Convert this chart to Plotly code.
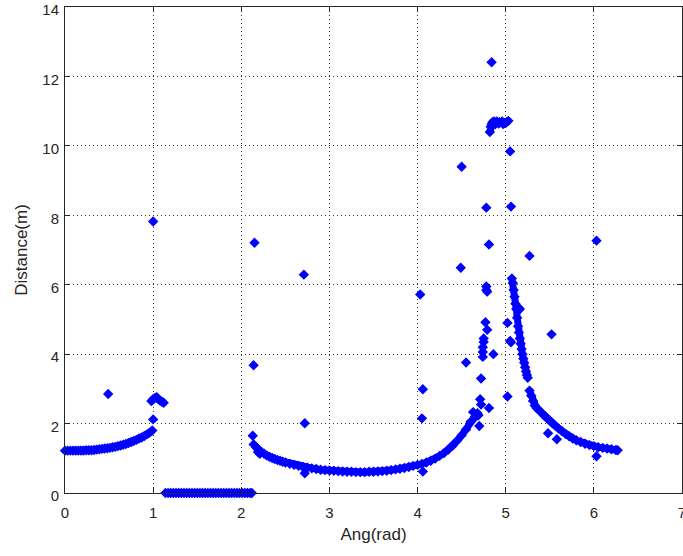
import plotly.graph_objects as go

# ---- main scan curve (left wall) ----
seg_a_x = [0.00, 0.03, 0.06, 0.09, 0.12, 0.15, 0.18, 0.21, 0.24, 0.27, 0.30, 0.33,
           0.36, 0.39, 0.42, 0.45, 0.48, 0.51, 0.54, 0.57, 0.60, 0.63, 0.66, 0.69,
           0.72, 0.75, 0.78, 0.81, 0.84, 0.87, 0.90, 0.93, 0.96, 0.99]
seg_a_y = [1.22, 1.22, 1.22, 1.22, 1.22, 1.22, 1.22, 1.22, 1.23, 1.23, 1.23, 1.24,
           1.25, 1.26, 1.27, 1.28, 1.29, 1.30, 1.32, 1.33, 1.35, 1.37, 1.39, 1.41,
           1.44, 1.47, 1.50, 1.53, 1.57, 1.60, 1.64, 1.69, 1.74, 1.80]

# ---- small bump just after 1 rad ----
bump_x = [0.98, 1.00, 1.02, 1.04, 1.06, 1.08, 1.10, 1.12]
bump_y = [2.65, 2.70, 2.74, 2.76, 2.70, 2.66, 2.63, 2.60]

# ---- no-return zone (distance 0) ----
zero_x = [1.14, 1.17, 1.20, 1.23, 1.26, 1.29, 1.32, 1.35, 1.38, 1.41, 1.44, 1.47,
          1.50, 1.53, 1.56, 1.59, 1.62, 1.65, 1.68, 1.71, 1.74, 1.77, 1.80, 1.83,
          1.86, 1.89, 1.92, 1.95, 1.98, 2.01, 2.04, 2.07, 2.10, 2.12]
zero_y = [0.0] * len(zero_x)

# ---- long bowl 2.1 .. 4.7 rad ----
seg_c_x = [2.14, 2.17, 2.20, 2.23, 2.26, 2.29, 2.32, 2.35, 2.38, 2.41, 2.44, 2.47,
           2.50, 2.55, 2.60, 2.65, 2.70, 2.75, 2.80, 2.85, 2.90, 2.95, 3.00, 3.05,
           3.10, 3.15, 3.20, 3.25, 3.30, 3.35, 3.40, 3.45, 3.50, 3.55, 3.60, 3.65,
           3.70, 3.75, 3.80, 3.85, 3.90, 3.95, 4.00, 4.05, 4.10, 4.15, 4.20, 4.25,
           4.30, 4.35, 4.40, 4.45, 4.50, 4.55, 4.60, 4.65, 4.68]
seg_c_y = [1.40, 1.31, 1.24, 1.18, 1.13, 1.08, 1.04, 1.01, 0.98, 0.95, 0.93, 0.90,
           0.88, 0.84, 0.81, 0.78, 0.75, 0.73, 0.71, 0.69, 0.67, 0.66, 0.65, 0.64,
           0.63, 0.62, 0.61, 0.61, 0.60, 0.60, 0.60, 0.61, 0.61, 0.62, 0.63, 0.64,
           0.66, 0.68, 0.70, 0.72, 0.75, 0.78, 0.81, 0.84, 0.88, 0.93, 0.99, 1.07,
           1.15, 1.25, 1.37, 1.51, 1.66, 1.83, 2.05, 2.20, 2.30]

# ---- descending branch 5.07 .. 6.27 rad (two pieces) ----
seg_d_x = [5.07, 5.08, 5.09, 5.10, 5.11, 5.12, 5.13, 5.14, 5.15, 5.16, 5.17, 5.18,
           5.19, 5.20, 5.21, 5.22, 5.23, 5.24, 5.25]
seg_d_y = [6.18, 6.05, 5.85, 5.65, 5.45, 5.30, 5.05, 4.80, 4.62, 4.45, 4.30, 4.15,
           4.00, 3.87, 3.75, 3.62, 3.50, 3.40, 3.32]
seg_e_x = [5.27, 5.29, 5.31, 5.33, 5.35, 5.38, 5.41, 5.44, 5.47, 5.50, 5.53, 5.56,
           5.60, 5.64, 5.68, 5.72, 5.76, 5.80, 5.85, 5.90, 5.95, 6.00, 6.05, 6.10,
           6.15, 6.20, 6.25, 6.27]
seg_e_y = [2.95, 2.80, 2.65, 2.52, 2.45, 2.38, 2.30, 2.22, 2.15, 2.08, 2.01, 1.94,
           1.86, 1.78, 1.70, 1.63, 1.57, 1.52, 1.47, 1.42, 1.38, 1.35, 1.32, 1.30,
           1.28, 1.26, 1.24, 1.23]

# ---- far cluster near 4.9 rad ----
top_x = [4.82, 4.83, 4.84, 4.85, 4.87, 4.90, 4.93, 4.96, 4.99, 5.01, 5.03, 4.88, 4.92, 4.97]
top_y = [10.40, 10.55, 10.62, 10.68, 10.70, 10.70, 10.68, 10.70, 10.66, 10.68, 10.72, 10.62, 10.64, 10.63]

# ---- scattered returns ----
out_x = [0.49, 1.00, 1.00, 2.13, 2.14, 2.15, 2.21, 2.19, 2.71, 2.72, 2.72, 4.03,
         4.06, 4.05, 4.06, 4.50, 4.49, 4.55, 4.84, 4.78, 5.06, 4.81, 5.27, 4.78,
         4.78, 4.79, 4.77, 4.79, 4.75, 4.75, 4.74, 4.74, 4.74, 4.86, 4.72, 4.71,
         4.72, 4.81, 4.63, 4.69, 4.66, 4.70, 5.02, 5.06, 5.05, 5.02, 5.05, 5.52,
         5.48, 5.58, 6.03, 6.03, 5.15, 5.16, 5.15]
out_y = [2.85, 7.82, 2.12, 1.65, 3.68, 7.21, 1.13, 1.18, 6.29, 2.01, 0.57, 5.72,
         2.99, 2.15, 0.62, 9.40, 6.49, 3.76, 12.41, 8.22, 8.25, 7.16, 6.83, 5.95,
         5.85, 5.80, 4.92, 4.70, 4.45, 4.35, 4.20, 4.06, 3.92, 4.00, 3.30, 2.70,
         2.55, 2.45, 2.33, 2.24, 2.20, 1.93, 4.90, 4.34, 4.38, 2.78, 9.84, 4.57,
         1.72, 1.55, 1.06, 7.27, 5.32, 5.30, 5.28]

x_ticks = [0, 1, 2, 3, 4, 5, 6, 7]
y_ticks = [0, 2, 4, 6, 8, 10, 12, 14]

BLUE = "#0000ff"
FONT = "Liberation Sans, Arial, Helvetica, sans-serif"
INK = "#262626"

fig = go.Figure()
# continuous segments: thick line + markers so dense scan reads as a band
for sx, sy in [(seg_a_x, seg_a_y), (bump_x, bump_y), (zero_x, zero_y),
               (seg_c_x, seg_c_y), (seg_d_x, seg_d_y), (seg_e_x, seg_e_y),
               (top_x[:11], top_y[:11])]:
    fig.add_trace(go.Scatter(
        x=sx, y=sy, mode="lines+markers",
        line=dict(color=BLUE, width=7),
        marker=dict(symbol="diamond", size=8, color=BLUE, line=dict(width=0)),
        cliponaxis=False, showlegend=False,
    ))
fig.add_trace(go.Scatter(
    x=top_x[11:] + out_x, y=top_y[11:] + out_y, mode="markers",
    marker=dict(symbol="diamond", size=8, color=BLUE, line=dict(width=0)),
    cliponaxis=False, showlegend=False,
))

axis_common = dict(
    showline=True, linecolor=INK, linewidth=1, mirror="ticks",
    ticks="inside", ticklen=5, tickcolor=INK, tickwidth=1,
    showgrid=True, gridcolor="#333333", griddash="1px,3px", gridwidth=1,
    zeroline=False, ticklabeloverflow="allow",
    tickfont=dict(family=FONT, size=15, color=INK),
)

fig.update_xaxes(range=[0, 7], tickvals=x_ticks, ticktext=[str(v) for v in x_ticks],
                 title=dict(text="Ang(rad)", standoff=8,
                            font=dict(family=FONT, size=17, color=INK)),
                 ticklabelstandoff=6, **axis_common)
fig.update_yaxes(range=[0, 14], tickvals=y_ticks, ticktext=[str(v) for v in y_ticks],
                 title=dict(text="Distance(m)", standoff=10,
                            font=dict(family=FONT, size=17, color=INK)),
                 ticklabelstandoff=2, ticklabelshift=3, **axis_common)

fig.update_layout(
    width=683, height=556,
    margin=dict(l=65, r=1, t=7, b=63, autoexpand=False),
    plot_bgcolor="white", paper_bgcolor="white",
)

fig.write_html("out.html", config={"displayModeBar": False},
               post_script="document.body.style.margin='0';")
